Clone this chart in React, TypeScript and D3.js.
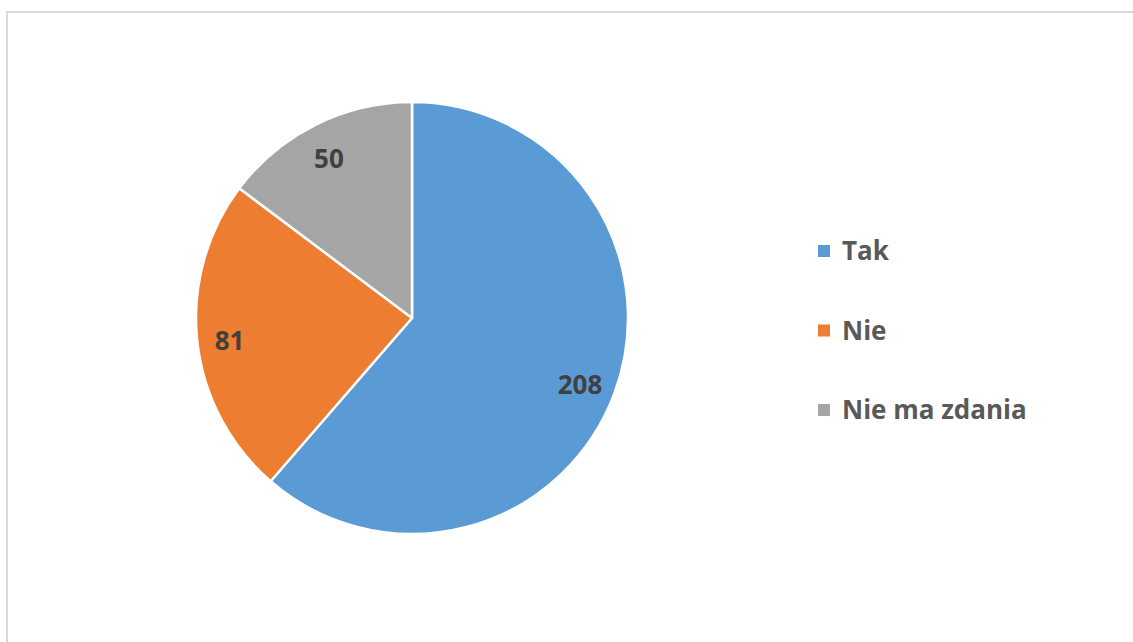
import * as React from "react";
import * as d3 from "d3";

const categories = ["Tak", "Nie", "Nie ma zdania"];
const values = [208, 81, 50];
const colors = ["#5B9BD5", "#ED7D31", "#A5A5A5"];

const W = 1133;
const H = 642;

export default function App() {
  const cx = 412;
  const cy = 318;
  const r = 216;

  const pie = d3.pie<number>().sort(null).value(d => d);
  const arcs = pie(values);
  const arc = d3.arc<d3.PieArcDatum<number>>().innerRadius(0).outerRadius(r);
  const labelArc = d3.arc<d3.PieArcDatum<number>>().innerRadius(r * 0.84).outerRadius(r * 0.84);

  // legend rows
  const legendY = d3.scalePoint<string>().domain(categories).range([251, 410]);

  const font = "'Open Sans', sans-serif";

  return (
    <svg width={W} height={H} style={{position: "absolute", left: 0, top: 0}}>
      <rect x={0} y={0} width={W} height={H} fill="#fff"/>
      <rect x={7} y={12} width={W + 20} height={H + 20} fill="none" stroke="#d9d9d9" strokeWidth={2}/>
      <g transform={`translate(${cx},${cy})`}>
        {arcs.map((a, i) => (
          <path key={i} d={arc(a) || ""} fill={colors[i]} stroke="#fff" strokeWidth={2.5} strokeLinejoin="round"/>
        ))}
        {arcs.map((a, i) => {
          const [x, y] = labelArc.centroid(a);
          return (
            <text key={i} x={x - 2} y={y + 3} dy="0.36em" textAnchor="middle" fill="#404040"
                  fontFamily={font} fontWeight="bold" fontSize={26}>
              {values[i]}
            </text>
          );
        })}
      </g>
      <g>
        {categories.map((c, i) => (
          <g key={c} transform={`translate(818,${legendY(c)})`}>
            <rect x={0} y={-6} width={12} height={12} fill={colors[i]}/>
            <text x={24} y={0} dy="0.36em" fill="#595959" fontFamily={font} fontWeight="bold" fontSize={26}>
              {c}
            </text>
          </g>
        ))}
      </g>
    </svg>
  );
}
